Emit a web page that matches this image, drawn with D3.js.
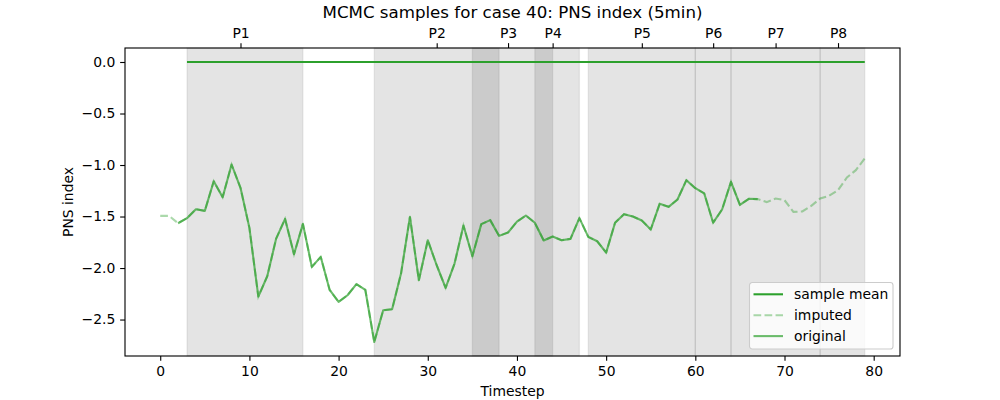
<!DOCTYPE html>
<html>
<head>
<meta charset="utf-8">
<script src="https://cdn.jsdelivr.net/npm/d3@7"></script>
<style>
  body { margin: 0; background: #fff; }
  svg text { font-family: "DejaVu Sans", sans-serif; fill: #000; }
</style>
</head>
<body>
<svg id="chart"></svg>
<script>
var width  = 1000;
var height = 400;
var margin = {top: 48, right: 100, bottom: 44, left: 125};

// PNS index per timestep (0..79)
var pnsValues = [
  -1.494, -1.494, -1.565, -1.516, -1.429, -1.445, -1.157, -1.312, -0.995, -1.221,
  -1.610, -2.277, -2.080, -1.714, -1.523, -1.866, -1.571, -1.989, -1.892, -2.213,
  -2.329, -2.264, -2.157, -2.213, -2.718, -2.410, -2.400, -2.054, -1.503, -2.119,
  -1.730, -1.973, -2.193, -1.957, -1.587, -1.885, -1.574, -1.535, -1.688, -1.655,
  -1.550, -1.490, -1.560, -1.733, -1.694, -1.730, -1.717, -1.516, -1.698, -1.740,
  -1.850, -1.561, -1.477, -1.500, -1.539, -1.626, -1.377, -1.406, -1.335, -1.147,
  -1.225, -1.276, -1.560, -1.432, -1.163, -1.387, -1.328, -1.331, -1.360, -1.325,
  -1.341, -1.455, -1.451, -1.396, -1.325, -1.299, -1.244, -1.121, -1.050, -0.936
];
var timesteps = d3.range(pnsValues.length);

// observed (original) stretch, the rest is imputed
var originalStart = 2;
var originalEnd   = 67;

// sample mean
var meanStart = 3;
var meanEnd   = 79;
var meanValue = 0.0;

// phases
var phaseLabels = ["P1", "P2", "P3", "P4", "P5", "P6", "P7", "P8"];
var phaseStart  = [3, 24, 35, 42, 48, 60, 64, 74];
var phaseEnd    = [16, 38, 44, 47, 60, 64, 74, 79];
var phaseTicks  = [9, 31, 39, 44, 54, 62, 69, 76];

var xTicks = [0, 10, 20, 30, 40, 50, 60, 70, 80];
var yTicks = [0.0, -0.5, -1.0, -1.5, -2.0, -2.5];

var legendLabels = ["sample mean", "imputed", "original"];

var green = "#2ca02c";
var fontSize = 13.9;
var lw = 2.08;          // 1.5pt at 100 dpi
var dash = "7.7,3.33";

var svg = d3.select("#chart")
      .attr("width", width)
      .attr("height", height);

// matplotlib style 5% margins
var xMin = 0, xMax = timesteps.length - 1;
var xPad = (xMax - xMin) * 0.05;
var yMin = d3.min(pnsValues.concat([meanValue]));
var yMax = d3.max(pnsValues.concat([meanValue]));
var yPad = (yMax - yMin) * 0.05;

var x = d3.scaleLinear()
      .domain([xMin - xPad, xMax + xPad])
      .range([margin.left, width - margin.right]);

var y = d3.scaleLinear()
      .domain([yMin - yPad, yMax + yPad])
      .range([height - margin.bottom, margin.top]);

var plot = svg.append("g");

// phase spans
plot.selectAll("rect.span")
      .data(phaseLabels)
      .enter()
      .append("rect")
      .attr("class", "span")
      .attr("x", function (d, i) { return x(phaseStart[i]); })
      .attr("y", margin.top)
      .attr("width", function (d, i) { return x(phaseEnd[i]) - x(phaseStart[i]); })
      .attr("height", height - margin.bottom - margin.top)
      .style("fill", "#000")
      .style("fill-opacity", 0.105)
      .style("stroke", "#000")
      .style("stroke-opacity", 0.07)
      .style("stroke-width", 1.39);

// sample mean
var meanLine = d3.line()
      .x(function (d) { return x(d); })
      .y(function () { return y(meanValue); });

plot.append("path")
      .datum([meanStart, meanEnd])
      .attr("d", meanLine)
      .style("fill", "none")
      .style("stroke", green)
      .style("stroke-width", lw);

// imputed (whole series, dashed)
var line = d3.line()
      .x(function (d) { return x(d); })
      .y(function (d) { return y(pnsValues[d]); });

plot.append("path")
      .datum(timesteps)
      .attr("d", line)
      .style("fill", "none")
      .style("stroke", green)
      .style("stroke-opacity", 0.4)
      .style("stroke-width", lw)
      .style("stroke-dasharray", dash);

// original
var originalLine = d3.line()
      .defined(function (d) { return d >= originalStart && d <= originalEnd; })
      .x(function (d) { return x(d); })
      .y(function (d) { return y(pnsValues[d]); });

plot.append("path")
      .datum(timesteps)
      .attr("d", originalLine)
      .style("fill", "none")
      .style("stroke", green)
      .style("stroke-opacity", 0.7)
      .style("stroke-width", lw)
      .style("stroke-linejoin", "round");

// axes
var tickLen = 4.86;

var xAxis = svg.append("g")
      .attr("transform", "translate(0," + (height - margin.bottom) + ")")
      .call(d3.axisBottom(x).tickValues(xTicks).tickFormat(d3.format("d"))
            .tickSizeOuter(0).tickSize(tickLen).tickPadding(5.5));

var yAxis = svg.append("g")
      .attr("transform", "translate(" + margin.left + ",0)")
      .call(d3.axisLeft(y).tickValues(yTicks).tickFormat(d3.format(".1f"))
            .tickSizeOuter(0).tickSize(tickLen).tickPadding(4.9));

var topAxis = svg.append("g")
      .attr("transform", "translate(0," + margin.top + ")")
      .call(d3.axisTop(x).tickValues(phaseTicks)
            .tickFormat(function (d, i) { return phaseLabels[i]; })
            .tickSizeOuter(0).tickSize(tickLen).tickPadding(4.9));

[xAxis, yAxis, topAxis].forEach(function (g) {
  g.select(".domain").remove();
  g.selectAll(".tick line").style("stroke", "#000").style("stroke-width", 1.11);
  g.selectAll(".tick text")
      .style("font-size", fontSize + "px")
      .style("font-family", "DejaVu Sans")
      .style("fill", "#000");
});

// frame
svg.append("rect")
      .attr("x", margin.left)
      .attr("y", margin.top)
      .attr("width", width - margin.left - margin.right)
      .attr("height", height - margin.top - margin.bottom)
      .style("fill", "none")
      .style("stroke", "#000")
      .style("stroke-width", 1.11);

// labels
svg.append("text")
      .attr("x", (margin.left + width - margin.right) / 2)
      .attr("y", 17.5)
      .attr("text-anchor", "middle")
      .style("font-size", "16.67px")
      .text("MCMC samples for case 40: PNS index (5min)");

svg.append("text")
      .attr("x", (margin.left + width - margin.right) / 2)
      .attr("y", 395.5)
      .attr("text-anchor", "middle")
      .style("font-size", fontSize + "px")
      .text("Timestep");

svg.append("text")
      .attr("transform", "translate(73," + ((margin.top + height - margin.bottom) / 2) + ") rotate(-90)")
      .attr("text-anchor", "middle")
      .style("font-size", fontSize + "px")
      .text("PNS index");

// legend
var legend = svg.append("g").attr("transform", "translate(749.5,282.5)");

legend.append("rect")
      .attr("width", 143.5)
      .attr("height", 66.5)
      .attr("rx", 2.8)
      .style("fill", "#fff")
      .style("fill-opacity", 0.8)
      .style("stroke", "#cccccc")
      .style("stroke-width", 1.1);

var legendStyles = [
  {opacity: 1,   dash: null},
  {opacity: 0.4, dash: dash},
  {opacity: 0.7, dash: null}
];

var rows = legend.selectAll("g.row")
      .data(legendLabels)
      .enter()
      .append("g")
      .attr("class", "row")
      .attr("transform", function (d, i) { return "translate(0," + (11.8 + i * 20.9) + ")"; });

rows.append("line")
      .attr("x1", 4)
      .attr("x2", 33.5)
      .style("stroke", green)
      .style("stroke-width", lw)
      .style("stroke-opacity", function (d, i) { return legendStyles[i].opacity; })
      .style("stroke-dasharray", function (d, i) { return legendStyles[i].dash; });

rows.append("text")
      .attr("x", 44.5)
      .attr("dy", "0.36em")
      .style("font-size", fontSize + "px")
      .text(function (d) { return d; });
</script>
</body>
</html>
